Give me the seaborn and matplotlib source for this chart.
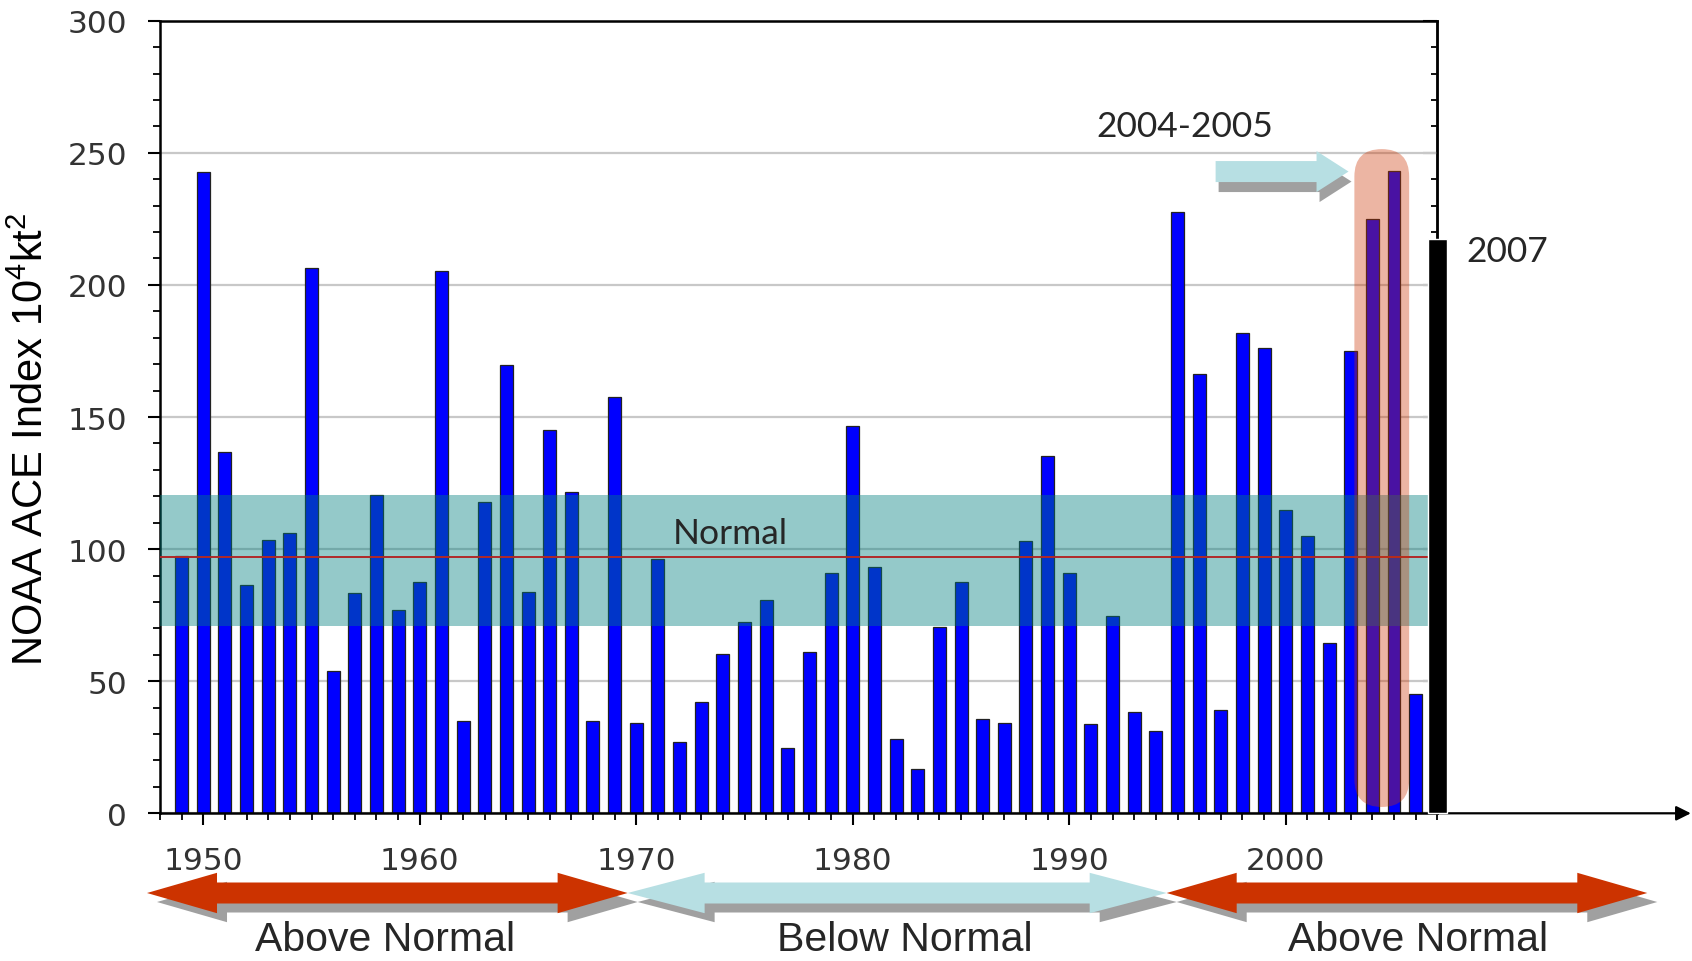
import numpy as np
import pandas as pd
import matplotlib
matplotlib.use("Agg")
import matplotlib.pyplot as plt
import seaborn as sns
from matplotlib.patches import Polygon, FancyBboxPatch
from matplotlib.transforms import IdentityTransform
from matplotlib.ticker import MultipleLocator

# ---------------- data ----------------
years = list(range(1949, 2007))
ace = [97.5, 242.6, 136.7, 86.4, 103.6, 106.1, 206.4, 53.7, 83.4, 120.6,
       76.8, 87.4, 205.4, 35.1, 117.7, 169.8, 83.9, 145.1, 121.5, 35.1,
       157.7, 34.2, 96.3, 27.1, 42.2, 60.3, 72.5, 80.9, 24.7, 60.9,
       90.9, 146.7, 93.1, 28.1, 16.8, 70.4, 87.4, 35.7, 34.2, 103.1,
       135.3, 90.9, 33.7, 74.8, 38.2, 31.2, 227.5, 166.3, 39.2, 181.9,
       176.3, 114.9, 104.8, 64.3, 174.9, 225.0, 243.0, 45.2]
forecast_year = [2007]
forecast_ace = [217.5]

normal_range = [71, 120.5]
normal_median = 97

y_ticks = [0, 50, 100, 150, 200, 250, 300]
x_ticks = [1950, 1960, 1970, 1980, 1990, 2000]
x_tick_labels = ["1950", "1960", "1970", "1980", "1990", "2000"]

period_labels = ["Above Normal", "Below Normal", "Above Normal"]
period_start = [1947.4, 1969.6, 1994.5]
period_end = [1969.6, 1994.5, 2016.7]
period_label_x = [1958.4, 1982.4, 2006.1]

highlight_years = [2003.17, 2005.70]
highlight_vals = [2.4, 251.4]

# ---------------- style ----------------
sns.set_theme(style="white")
plt.rcParams["font.family"] = ["DejaVu Sans"]
plt.rcParams["mathtext.default"] = "regular"

W, H = 1692, 962
fig = plt.figure(figsize=(W / 100, H / 100), dpi=100)
ax = fig.add_axes([160 / W, 1 - 814.3 / H, 1277.3 / W, (814.3 - 21.7) / H])

df = pd.DataFrame({"year": years, "ace": ace})
sns.barplot(data=df, x="year", y="ace", native_scale=True, color="#0000FF",
            saturation=1, width=0.6, edgecolor="#222222", linewidth=0.9,
            ax=ax, zorder=2)

ax.set_xlim(1948, 2007)
ax.set_ylim(0, 300)
ax.set_autoscale_on(False)
ax.set_xlabel("")

ax.set_xticks(x_ticks, labels=x_tick_labels)
ax.xaxis.set_minor_locator(MultipleLocator(1))
ax.set_yticks(y_ticks)
ax.yaxis.set_minor_locator(MultipleLocator(10))

ax.tick_params(axis="both", which="major", direction="out", length=8.8,
               width=1.5, color="black", labelsize=22.5, labelcolor="#333333",
               pad=15, bottom=True, left=True, top=False, right=False)
ax.tick_params(axis="both", which="minor", direction="out", length=5,
               width=1.3, color="black", bottom=True, left=True,
               top=False, right=False)
for lab in ax.get_xticklabels() + ax.get_yticklabels():
    lab.set_fontfamily("DejaVu Sans")

ax.yaxis.grid(True, color="#c8c8c8", lw=1.6)
ax.xaxis.grid(False)
ax.set_axisbelow(True)
for s in ax.spines.values():
    s.set_color("black")
    s.set_linewidth(1.8)
    s.set_visible(True)

secax = ax.secondary_yaxis("right")
secax.set_yticks(y_ticks)
secax.yaxis.set_minor_locator(MultipleLocator(10))
secax.tick_params(which="major", direction="in", length=10, width=1.5,
                  color="black", labelright=False)
secax.tick_params(which="minor", direction="in", length=4.5, width=1.3,
                  color="black")
secax.spines["right"].set_linewidth(1.8)

# normal band and median line
ax.axhspan(normal_range[0], normal_range[1], color="#008080", alpha=0.42,
           lw=0, zorder=3)
ax.axhline(normal_median, color="#B02828", lw=1.4, zorder=4)
ax.text(1971.67, 102.3, "Normal", fontsize=25.5, family="Lato",
        ha="left", va="baseline", zorder=6)

# 2007 bar (outside the plotted range)
ax.bar(forecast_year, forecast_ace, width=0.87, color="black",
       clip_on=False, zorder=7)
ax.text(2008.34, 208.9, "2007", fontsize=25.5, family="Lato",
        ha="left", va="baseline")

# highlight capsule for 2004-2005
fig.canvas.draw()
p0 = ax.transData.transform((highlight_years[0], highlight_vals[0]))
p1 = ax.transData.transform((highlight_years[1], highlight_vals[1]))
wpx, hpx = p1[0] - p0[0], p1[1] - p0[1]
cap = FancyBboxPatch((p0[0], p0[1]), wpx, hpx,
                     boxstyle=f"round,pad=0,rounding_size={wpx / 2:.2f}",
                     transform=IdentityTransform(), facecolor="#CC3300",
                     alpha=0.36, edgecolor="none", zorder=5, clip_on=False)
ax.add_patch(cap)

# x-axis arrow extension
ax.annotate("", xy=(1.1985, 0), xytext=(1.0, 0), xycoords="axes fraction",
            arrowprops=dict(arrowstyle="-|>", color="black", lw=1.6,
                            mutation_scale=22, shrinkA=0, shrinkB=0),
            annotation_clip=False)


def single_arrow(x0, x1, yc, hs, hh, hl):
    return [(x0, yc - hs), (x1 - hl, yc - hs), (x1 - hl, yc - hh), (x1, yc),
            (x1 - hl, yc + hh), (x1 - hl, yc + hs), (x0, yc + hs)]


def double_arrow(x0, x1, yc, hs, hh, hl):
    return [(x0, yc), (x0 + hl, yc + hh), (x0 + hl, yc + hs),
            (x1 - hl, yc + hs), (x1 - hl, yc + hh), (x1, yc),
            (x1 - hl, yc - hh), (x1 - hl, yc - hs), (x0 + hl, yc - hs),
            (x0 + hl, yc - hh)]


def shifted(v, dx, dy):
    return [(a + dx, b + dy) for a, b in v]


def add_poly(verts, color, z):
    fig.add_artist(Polygon(verts, closed=True, transform=IdentityTransform(),
                           facecolor=color, edgecolor="none", zorder=z))


# 2004-2005 pointer arrow
t0 = ax.transData.transform((1996.76, 242.9))
t1 = ax.transData.transform((2002.9, 242.9))
va = single_arrow(t0[0], t1[0], t0[1], 10.5, 20.5, 32)
add_poly(shifted(va, 3, -10), "#A0A0A0", 3)
add_poly(va, "#B7DFE3", 4)
ax.text(1991.25, 256.5, "2004-2005", fontsize=25.5, family="Lato",
        ha="left", va="baseline")

# period arrows below the axis
yc = H - 894
colors = ["#CC3300", "#B7DFE3", "#CC3300"]
head_len = [70, 77, 70]
shadows, fronts = [], []
for s, e, c, hl in zip(period_start, period_end, colors, head_len):
    a = ax.transData.transform((s, 0))[0]
    b = ax.transData.transform((e, 0))[0]
    v = double_arrow(a, b, yc, 10.5, 20.2, hl)
    shadows.append(shifted(v, 10, -9))
    fronts.append((v, c))
for v in shadows:
    add_poly(v, "#A0A0A0", 3)
for v, c in fronts:
    add_poly(v, c, 4)

for lab, lx in zip(period_labels, period_label_x):
    xf = fig.transFigure.inverted().transform(ax.transData.transform((lx, 0)))[0]
    fig.text(xf, 11 / H, lab, fontsize=29.5, family="Liberation Sans",
             ha="center", va="baseline")

ax.set_ylabel("NOAA ACE Index 10$^4$kt$^2$", fontsize=30,
              family="Liberation Sans", color="black")
ax.yaxis.set_label_coords(-0.0846, 0.473)

fig.savefig("out.png", dpi=100)
